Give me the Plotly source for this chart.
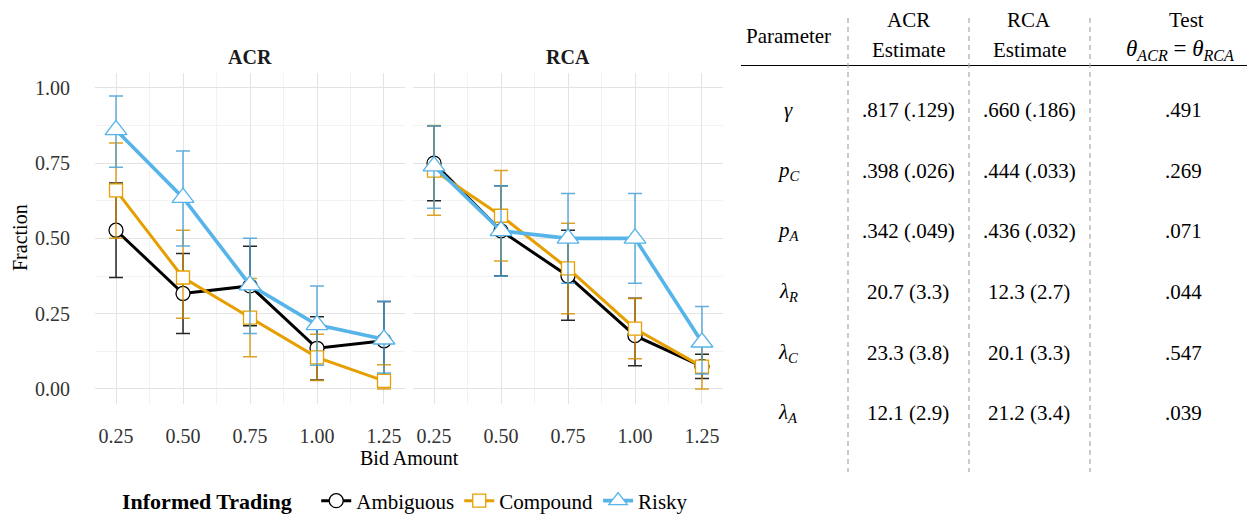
import plotly.graph_objects as go

W, H = 1247, 516
FONT = "Liberation Serif"

# ---------------- data ----------------
bids = [0.25, 0.50, 0.75, 1.00, 1.25]
tick_vals = [0.25, 0.50, 0.75, 1.00, 1.25]
tick_text = ["0.25", "0.50", "0.75", "1.00", "1.25"]
y_tick_vals = [0.0, 0.25, 0.5, 0.75, 1.0]
y_tick_text = ["0.00", "0.25", "0.50", "0.75", "1.00"]

series_names = ["Ambiguous", "Compound", "Risky"]

# ACR panel
acr_amb = [0.527, 0.317, 0.342, 0.135, 0.160]
acr_amb_hi = [0.157, 0.133, 0.132, 0.105, 0.130]
acr_amb_lo = [0.157, 0.133, 0.132, 0.105, 0.130]
acr_comp = [0.659, 0.370, 0.237, 0.105, 0.027]
acr_comp_hi = [0.158, 0.157, 0.130, 0.077, 0.053]
acr_comp_lo = [0.159, 0.135, 0.130, 0.077, 0.027]
acr_risky = [0.860, 0.635, 0.345, 0.213, 0.165]
acr_risky_hi = [0.113, 0.155, 0.155, 0.129, 0.125]
acr_risky_lo = [0.124, 0.160, 0.161, 0.134, 0.112]

# RCA panel
rca_amb = [0.750, 0.525, 0.375, 0.177, 0.075]
rca_amb_hi = [0.124, 0.150, 0.152, 0.124, 0.040]
rca_amb_lo = [0.125, 0.150, 0.147, 0.100, 0.040]
rca_comp = [0.725, 0.575, 0.400, 0.200, 0.074]
rca_comp_hi = [0.150, 0.150, 0.150, 0.100, 0.074]
rca_comp_lo = [0.148, 0.150, 0.150, 0.100, 0.074]
rca_risky = [0.740, 0.525, 0.500, 0.500, 0.155]
rca_risky_hi = [0.134, 0.150, 0.149, 0.149, 0.119]
rca_risky_lo = [0.140, 0.151, 0.149, 0.149, 0.105]

# table
tbl_params = ["<i>γ</i>", "<i>p</i><sub><i>C</i></sub>", "<i>p</i><sub><i>A</i></sub>",
              "<i>λ</i><sub><i>R</i></sub>", "<i>λ</i><sub><i>C</i></sub>", "<i>λ</i><sub><i>A</i></sub>"]
tbl_acr = [".817 (.129)", ".398 (.026)", ".342 (.049)", "20.7 (3.3)", "23.3 (3.8)", "12.1 (2.9)"]
tbl_rca = [".660 (.186)", ".444 (.033)", ".436 (.032)", "12.3 (2.7)", "20.1 (3.3)", "21.2 (3.4)"]
tbl_test = [".491", ".269", ".071", ".044", ".547", ".039"]

# ---------------- styles ----------------
colors = {"Ambiguous": "#000000", "Compound": "#E69F00", "Risky": "#56B4E9"}
err_colors = {"Ambiguous": "rgba(0,0,0,0.85)", "Compound": "rgba(214,146,0,0.85)",
              "Risky": "rgba(70,160,215,0.85)"}
symbols = {"Ambiguous": "circle", "Compound": "square", "Risky": "triangle-up"}
msizes = {"Ambiguous": 14, "Compound": 13, "Risky": 19}
lwidths = {"Ambiguous": 3, "Compound": 3, "Risky": 3.6}

FS = 20


def px_x(p):
    return p / W


def px_y(p):
    return 1 - p / H


fig = go.Figure()

panels = [
    ("x", "y", [(acr_amb, acr_amb_hi, acr_amb_lo), (acr_comp, acr_comp_hi, acr_comp_lo),
                (acr_risky, acr_risky_hi, acr_risky_lo)], True),
    ("x2", "y2", [(rca_amb, rca_amb_hi, rca_amb_lo), (rca_comp, rca_comp_hi, rca_comp_lo),
                  (rca_risky, rca_risky_hi, rca_risky_lo)], False),
]

for xa, ya, data, show in panels:
    for name, (vals, hi, lo) in zip(series_names, data):
        fig.add_trace(go.Scatter(
            x=bids, y=vals, xaxis=xa, yaxis=ya, name=name, legendgroup=name,
            showlegend=show, mode="lines+markers",
            line=dict(color=colors[name], width=lwidths[name]),
            marker=dict(symbol=symbols[name], size=msizes[name], color="white",
                        line=dict(color=colors[name], width=1.3)),
            error_y=dict(type="data", array=hi, arrayminus=lo, symmetric=False,
                         color=err_colors[name], thickness=1.5, width=7),
        ))

x_range = [0.1716, 1.3284]
y_range = [-0.05, 1.05]
y_dom = [px_y(404), px_y(72.7)]

grid_major = "#E3E3E3"
grid_minor = "#F2F2F2"

common_x = dict(range=x_range, tickvals=tick_vals, ticktext=tick_text,
                showgrid=True, gridcolor=grid_major, gridwidth=1.3, zeroline=False,
                showline=False, ticks="outside", ticklen=14, tickcolor="rgba(0,0,0,0)",
                tickfont=dict(family=FONT, size=FS, color="#333333"),
                minor=dict(tickvals=[0.375, 0.625, 0.875, 1.125], showgrid=True,
                           gridcolor=grid_minor, gridwidth=1, ticks=""),
                fixedrange=True)
common_y = dict(range=y_range, domain=y_dom, showgrid=True, gridcolor=grid_major,
                gridwidth=1.3, zeroline=False, showline=False,
                minor=dict(tickvals=[0.125, 0.375, 0.625, 0.875], showgrid=True,
                           gridcolor=grid_minor, gridwidth=1, ticks=""),
                fixedrange=True)

fig.update_layout(
    width=W, height=H,
    margin=dict(l=0, r=0, t=0, b=0, autoexpand=False),
    paper_bgcolor="white", plot_bgcolor="white",
    font=dict(family=FONT, size=FS, color="black"),
    xaxis=dict(domain=[px_x(95), px_x(405)], anchor="y", **common_x),
    xaxis2=dict(domain=[px_x(413), px_x(723)], anchor="y2", **common_x),
    yaxis=dict(anchor="x", tickvals=y_tick_vals, ticktext=y_tick_text,
               ticks="outside", ticklen=20, tickcolor="rgba(0,0,0,0)",
               tickfont=dict(family=FONT, size=FS, color="#333333"), **common_y),
    yaxis2=dict(anchor="x2", tickvals=y_tick_vals, showticklabels=False, **common_y),
    legend=dict(orientation="h", x=px_x(120), y=px_y(501), xanchor="left", yanchor="middle",
                title=dict(text="<b>Informed Trading</b>&nbsp;&nbsp;&nbsp;", side="left",
                           font=dict(family=FONT, size=FS + 2)),
                font=dict(family=FONT, size=FS + 1), itemwidth=30, tracegroupgap=0,
                bgcolor="rgba(0,0,0,0)"),
    showlegend=True,
)

ann = []


def add_text(txt, x, y, font=None, angle=0):
    ann.append(dict(text=txt, x=px_x(x), y=px_y(y), xref="paper", yref="paper",
                    xanchor="center", yanchor="middle", showarrow=False, textangle=angle,
                    font=font or dict(family=FONT, size=FS, color="black")))


# facet titles
add_text("<b>ACR</b>", 250, 57, dict(family=FONT, size=FS, color="#1a1a1a"))
add_text("<b>RCA</b>", 568, 57, dict(family=FONT, size=FS, color="#1a1a1a"))
# axis titles
add_text("Bid Amount", 409, 458)
add_text("Fraction", 20, 238, angle=-90)

# table header
tf = dict(family=FONT, size=FS + 1, color="black")
col_x = [788, 908, 1029, 1183]
add_text("Parameter", col_x[0], 36, tf)
add_text("ACR", col_x[1], 20, tf)
add_text("Estimate", col_x[1], 50, tf)
add_text("RCA", col_x[2], 20, tf)
add_text("Estimate", col_x[2], 50, tf)
add_text("Test", 1186, 20, tf)
add_text("<i>θ</i><sub><i>ACR</i></sub> = <i>θ</i><sub><i>RCA</i></sub>", 1180, 50,
         dict(family=FONT, size=FS + 3, color="black"))

row_y = [110, 171, 231, 292, 353, 413]
for i, ry in enumerate(row_y):
    for cx, txt in zip(col_x, [tbl_params[i], tbl_acr[i], tbl_rca[i], tbl_test[i]]):
        add_text(txt, cx, ry, tf)

fig.update_layout(annotations=ann)

shapes = [dict(type="line", xref="paper", yref="paper", x0=px_x(741), x1=1.0,
               y0=px_y(65.5), y1=px_y(65.5), line=dict(color="black", width=1.2))]
for vx in [848, 969, 1090]:
    shapes.append(dict(type="line", xref="paper", yref="paper", x0=px_x(vx), x1=px_x(vx),
                       y0=px_y(18), y1=px_y(472),
                       line=dict(color="#A8A8A8", width=1.2, dash="5px,4px")))
fig.update_layout(shapes=shapes)

fig.write_html("out.html")
